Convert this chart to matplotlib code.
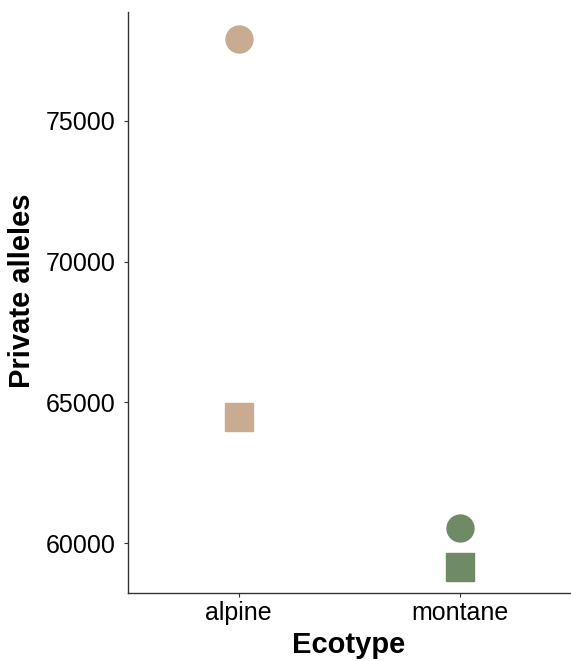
import matplotlib
matplotlib.use("Agg")
import matplotlib.pyplot as plt

# Data
ecotypes = ["alpine", "montane"]
circle_vals = [77900, 60550]
square_vals = [64470, 59150]
colours = ["#C8AB91", "#6F8B66"]

plt.rcParams["font.family"] = ["Liberation Sans", "DejaVu Sans"]

fig = plt.figure(figsize=(5.71, 6.61), dpi=100)
ax = fig.add_axes([128 / 571, 68 / 661, 442 / 571, 581 / 661])

xpos = range(1, len(ecotypes) + 1)
for x, yc, ys, c in zip(xpos, circle_vals, square_vals, colours):
    ax.plot(x, yc, marker="o", markersize=19.4, color=c, linestyle="none")
    ax.plot(x, ys, marker="s", markersize=20, color=c, linestyle="none")

ax.set_xlim(0.5, 2.5)
ax.set_ylim(58230, 78860)
ax.set_xticks(list(xpos))
ax.set_xticklabels(ecotypes)
ax.set_yticks([60000, 65000, 70000, 75000])

for side in ["top", "right"]:
    ax.spines[side].set_visible(False)
for side in ["left", "bottom"]:
    ax.spines[side].set_color("#333333")
    ax.spines[side].set_linewidth(1.0)

ax.tick_params(axis="both", length=3, width=0.8, color="#333333", labelsize=18, labelcolor="black")
ax.tick_params(axis="y", pad=6)
ax.tick_params(axis="x", pad=3)
ax.set_xlabel("Ecotype", fontsize=21, fontweight="bold", labelpad=4)
ax.set_ylabel("Private alleles", fontsize=21, fontweight="bold", labelpad=7)
ax.yaxis.label.set_y(0.52)

fig.savefig("out.png", dpi=100)
